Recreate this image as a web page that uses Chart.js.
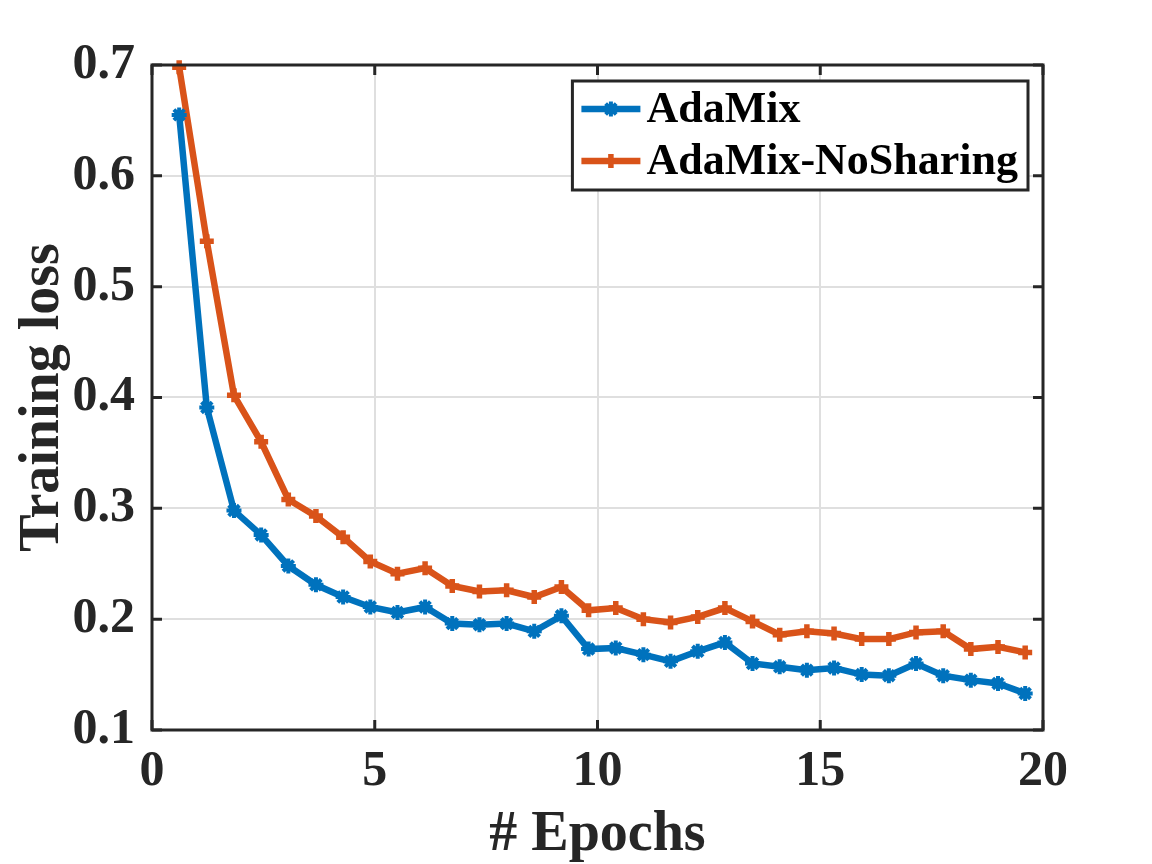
<!DOCTYPE html>
<html>
<head>
<meta charset="utf-8">
<script src="https://cdn.jsdelivr.net/npm/chart.js@4"></script>
<style>
  html, body { margin: 0; padding: 0; background: #fff; }
  #loss-chart { display: block; }
</style>
</head>
<body>
<canvas id="loss-chart" width="1152" height="864"></canvas>
<script>
const epochs = [0.61, 1.23, 1.84, 2.45, 3.06, 3.68, 4.29, 4.90, 5.51, 6.13, 6.74,
  7.35, 7.96, 8.58, 9.19, 9.80, 10.41, 11.03, 11.64, 12.25, 12.86, 13.48, 14.09,
  14.70, 15.31, 15.93, 16.54, 17.15, 17.76, 18.38, 18.99, 19.60];

const adaMix = [0.655, 0.391, 0.298, 0.276, 0.248, 0.231, 0.220, 0.211, 0.206, 0.211,
  0.196, 0.195, 0.196, 0.189, 0.203, 0.173, 0.174, 0.168, 0.162, 0.171, 0.179,
  0.160, 0.157, 0.154, 0.156, 0.150, 0.149, 0.160, 0.149, 0.145, 0.142, 0.133];

const noSharing = [0.698, 0.541, 0.402, 0.360, 0.308, 0.293, 0.274, 0.252, 0.241, 0.246,
  0.230, 0.225, 0.226, 0.220, 0.229, 0.208, 0.210, 0.200, 0.197, 0.202, 0.210,
  0.198, 0.186, 0.189, 0.187, 0.182, 0.182, 0.188, 0.189, 0.173, 0.175, 0.170];

const xTicks = [0, 5, 10, 15, 20];
const yTicks = [0.1, 0.2, 0.3, 0.4, 0.5, 0.6, 0.7];

const serif = "'Liberation Serif', 'Times New Roman', serif";
const axisColor = '#262626';

function points(ys) {
  return ys.map((v, i) => ({ x: epochs[i], y: v }));
}

// matlab style marker: '*' for blue, '+' for orange
function marker(ctx, style, x, y, r) {
  ctx.beginPath();
  ctx.moveTo(x - r, y); ctx.lineTo(x + r, y);
  ctx.moveTo(x, y - r); ctx.lineTo(x, y + r);
  if (style === 'star') {
    const d = r * 0.707;
    ctx.moveTo(x - d, y - d); ctx.lineTo(x + d, y + d);
    ctx.moveTo(x - d, y + d); ctx.lineTo(x + d, y - d);
  }
  ctx.stroke();
}

// box, inward ticks and legend inside the axes
const axesBox = {
  id: 'axesBox',
  afterDraw(chart) {
    const { ctx, chartArea: a, scales } = chart;
    ctx.save();
    ctx.strokeStyle = axisColor;
    ctx.lineWidth = 3;
    ctx.lineCap = 'butt';
    ctx.beginPath();
    scales.x.ticks.forEach(t => {
      const px = scales.x.getPixelForValue(t.value);
      ctx.moveTo(px, a.bottom); ctx.lineTo(px, a.bottom - 10);
      ctx.moveTo(px, a.top); ctx.lineTo(px, a.top + 10);
    });
    scales.y.ticks.forEach(t => {
      const py = scales.y.getPixelForValue(t.value);
      ctx.moveTo(a.left, py); ctx.lineTo(a.left + 10, py);
      ctx.moveTo(a.right, py); ctx.lineTo(a.right - 10, py);
    });
    ctx.stroke();
    ctx.strokeRect(a.left, a.top, a.right - a.left, a.bottom - a.top);

    // legend
    ctx.font = 'bold 44px ' + serif;
    const sets = chart.data.datasets;
    let textW = 0;
    sets.forEach(ds => { textW = Math.max(textW, ctx.measureText(ds.label).width); });
    const boxW = 9 + 59 + 6 + textW + 10;
    const boxH = 109;
    const bx = a.right - 15 - boxW;
    const by = a.top + 16;
    ctx.fillStyle = '#fff';
    ctx.fillRect(bx, by, boxW, boxH);
    ctx.lineWidth = 3;
    ctx.strokeStyle = axisColor;
    ctx.strokeRect(bx, by, boxW, boxH);
    sets.forEach((ds, i) => {
      const cy = by + 28 + i * 52;
      const lx = bx + 9;
      ctx.strokeStyle = ds.borderColor;
      ctx.lineWidth = 6.5;
      ctx.beginPath();
      ctx.moveTo(lx, cy); ctx.lineTo(lx + 59, cy);
      ctx.stroke();
      ctx.lineWidth = ds.pointBorderWidth;
      marker(ctx, ds.pointStyle, lx + 29.5, cy, ds.pointRadius);
      ctx.fillStyle = '#000';
      ctx.textBaseline = 'middle';
      ctx.textAlign = 'left';
      ctx.fillText(ds.label, lx + 65, cy + 2);
    });
    ctx.restore();
  }
};

const config = {
  type: 'line',
  data: {
    datasets: [
      {
        label: 'AdaMix',
        data: points(adaMix),
        borderColor: '#0072BD',
        backgroundColor: '#0072BD',
        borderWidth: 6.5,
        pointStyle: 'star',
        pointRadius: 7.5,
        pointBorderWidth: 4,
        pointHoverRadius: 7.5,
        clip: false
      },
      {
        label: 'AdaMix-NoSharing',
        data: points(noSharing),
        borderColor: '#D95319',
        backgroundColor: '#D95319',
        borderWidth: 6.5,
        pointStyle: 'cross',
        pointRadius: 7,
        pointBorderWidth: 5.5,
        pointHoverRadius: 7,
        clip: false
      }
    ]
  },
  options: {
    responsive: false,
    animation: false,
    events: [],
    layout: { padding: { left: 0, top: 65, right: 109, bottom: 0 } },
    plugins: {
      legend: { display: false },
      tooltip: { enabled: false }
    },
    scales: {
      x: {
        type: 'linear',
        min: 0,
        max: 20,
        afterFit: s => { s.height = 134; },
        afterBuildTicks: s => { s.ticks = xTicks.map(v => ({ value: v })); },
        grid: { color: '#dfdfdf', lineWidth: 2, drawTicks: false },
        border: { display: false },
        ticks: {
          color: axisColor,
          padding: 12,
          font: { family: serif, size: 50, weight: 'bold', lineHeight: 1.2 }
        },
        title: {
          display: true,
          text: '# Epochs',
          color: axisColor,
          padding: { top: 0, bottom: 0 },
          font: { family: serif, size: 56, weight: 'bold', lineHeight: 1.0 }
        }
      },
      y: {
        min: 0.1,
        max: 0.7,
        afterFit: s => { s.width = 152; },
        afterBuildTicks: s => { s.ticks = yTicks.map(v => ({ value: v })); },
        grid: { color: '#dfdfdf', lineWidth: 2, drawTicks: false },
        border: { display: false },
        ticks: {
          color: axisColor,
          padding: 17,
          callback: v => v.toFixed(1),
          font: { family: serif, size: 50, weight: 'bold', lineHeight: 1.2 }
        },
        title: {
          display: true,
          text: 'Training loss',
          color: axisColor,
          padding: { top: 10, bottom: 0 },
          font: { family: serif, size: 56, weight: 'bold', lineHeight: 1.2 }
        }
      }
    }
  },
  plugins: [axesBox]
};

const lossChart = new Chart(document.getElementById('loss-chart'), config);
</script>
</body>
</html>
